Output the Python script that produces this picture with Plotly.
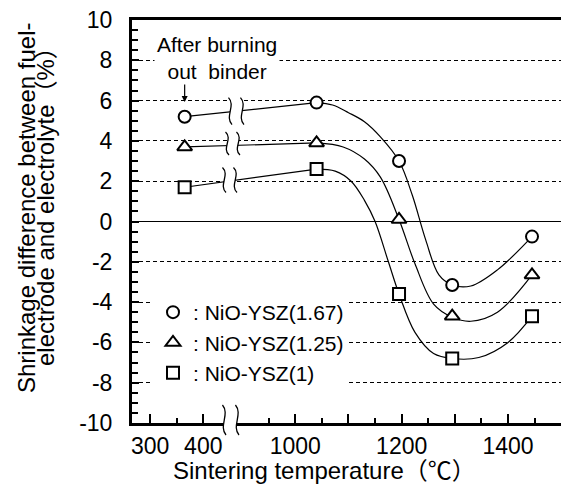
import plotly.graph_objects as go

# ---------------- data ----------------
temps = [365, 1040, 1195, 1295, 1445]          # sintering temperature (degC)
circle_vals = [5.2, 5.9, 3.0, -3.15, -0.75]    # NiO-YSZ(1.67)
triangle_vals = [3.7, 3.9, 0.1, -4.7, -2.65]   # NiO-YSZ(1.25)
square_vals = [1.7, 2.6, -3.6, -6.8, -4.7]     # NiO-YSZ(1)

# hand-drawn guide curves
circle_fit_T = [1040, 1070, 1100, 1130, 1160, 1195, 1220, 1245, 1270, 1295, 1330, 1380, 1445]
circle_fit_v = [5.9, 5.78, 5.4, 4.95, 4.2, 3.0, 1.3, -0.9, -2.65, -3.15, -3.2, -2.4, -0.75]
triangle_fit_T = [1040, 1090, 1130, 1160, 1195, 1225, 1260, 1295, 1330, 1380, 1445]
triangle_fit_v = [3.9, 3.7, 3.1, 2.2, 0.1, -2.1, -4.1, -4.75, -4.95, -4.5, -2.65]
square_fit_T = [1040, 1075, 1105, 1130, 1150, 1175, 1195, 1225, 1260, 1295, 1345, 1400, 1445]
square_fit_v = [2.6, 2.5, 2.0, 1.05, 0.0, -2.0, -3.6, -5.5, -6.55, -6.8, -6.75, -6.0, -4.7]

labels = [": NiO-YSZ(1.67)", ": NiO-YSZ(1.25)", ": NiO-YSZ(1)"]
major_ticks = [300, 400, 1000, 1100, 1200, 1300, 1400]
major_text = ["300", "400", "1000", "", "1200", "", "1400"]
minor_ticks = [350, 950, 1050, 1150, 1250, 1350, 1450]
y_ticks = [-10, -8, -6, -4, -2, 0, 2, 4, 6, 8, 10]
y_text = [str(v) for v in y_ticks]

# broken x axis: the 450..~890 gap is removed
GAP = 427
def P(t):
    return t if t < 700 else t - GAP

FONT = "Arial, 'Liberation Sans', Helvetica, 'Noto Sans CJK JP', sans-serif"

fig = go.Figure()

series = [
    (circle_vals, circle_fit_T, circle_fit_v, "circle", labels[0]),
    (triangle_vals, triangle_fit_T, triangle_fit_v, "triangle-up", labels[1]),
    (square_vals, square_fit_T, square_fit_v, "square", labels[2]),
]

for vals, fT, fv, sym, name in series:
    fig.add_trace(go.Scatter(x=[P(temps[0]), P(temps[1])], y=[vals[0], vals[1]],
                             mode="lines", line=dict(color="black", width=1.2),
                             showlegend=False, hoverinfo="skip"))
    fig.add_trace(go.Scatter(x=[P(t) for t in fT], y=fv, mode="lines",
                             line=dict(color="black", width=1.2, shape="spline", smoothing=1.0),
                             showlegend=False, hoverinfo="skip"))

for vals, fT, fv, sym, name in series:
    fig.add_trace(go.Scatter(x=[P(t) for t in temps], y=vals, mode="markers", name=name,
                             marker=dict(symbol=sym, size=12 if sym != "triangle-up" else 13,
                                         color="white", line=dict(color="black", width=2))))

# ---------------- break symbols ----------------
def tilde(xc, yc, h, w):
    top, bot = yc + h / 2, yc - h / 2
    return (f"M {xc - 0.3*w},{top} C {xc + w},{top - 0.3*h} {xc - w},{bot + 0.3*h} {xc + 0.3*w},{bot}")

def fill(x1, x2, yc, h, w):
    top, bot = yc + h / 2, yc - h / 2
    return (f"M {x1 - 0.3*w},{top} C {x1 + w},{top - 0.3*h} {x1 - w},{bot + 0.3*h} {x1 + 0.3*w},{bot} "
            f"L {x2 + 0.3*w},{bot} C {x2 - w},{bot + 0.3*h} {x2 + w},{top - 0.3*h} {x2 - 0.3*w},{top} Z")

shapes = []
W = 11
breaks = [  # (x1, x2, yc, h, yref)
    (450.7, 473.2, 5.48, 1.34, "y"),
    (445.1, 465.7, 3.87, 1.14, "y"),
    (439.4, 460.1, 2.06, 1.24, "y"),
    (439.4, 463.8, 0.0074, 0.0744, "paper"),
]
for x1, x2, yc, h, yr in breaks:
    shapes.append(dict(type="path", xref="x", yref=yr, path=fill(x1, x2, yc, h, W),
                       fillcolor="white", line=dict(width=0), layer="above"))
    for xc in (x1, x2):
        shapes.append(dict(type="path", xref="x", yref=yr, path=tilde(xc, yc, h, W),
                           line=dict(color="black", width=1.3), layer="above"))

annotations = [
    dict(text="After burning<br>out\u00a0\u00a0binder", xref="paper", yref="paper",
         x=(217 - 132) / 429, y=(423 - 58) / 403, xanchor="center", yanchor="middle",
         showarrow=False, bgcolor="white", borderpad=2,
         font=dict(family=FONT, size=21, color="black")),
    dict(text="", x=P(temps[0]), y=5.93, xref="x", yref="y", ax=0, ay=-19,
         showarrow=True, arrowhead=2, arrowsize=1, arrowwidth=1.2, arrowcolor="black", standoff=0),
    dict(text="Sintering temperature\uff08\u2103\uff09", xref="paper", yref="paper",
         x=(324 - 132) / 429, y=0, yshift=-47, xanchor="center", yanchor="middle",
         showarrow=False, font=dict(family=FONT, size=24, color="black")),
    dict(text="Shrinkage difference between fuel-", xref="paper", yref="paper",
         x=0, xshift=-105, y=(423 - 208) / 403, textangle=-90, xanchor="center", yanchor="middle",
         showarrow=False, font=dict(family=FONT, size=24, color="black")),
    dict(text="electrode and electrolyte\uff08%\uff09", xref="paper", yref="paper",
         x=0, xshift=-87, y=(423 - 201) / 403, textangle=-90, xanchor="center", yanchor="middle",
         showarrow=False, font=dict(family=FONT, size=24, color="black")),
]

fig.update_layout(
    width=561, height=498, autosize=False,
    margin=dict(l=132, r=0, t=20, b=75),
    paper_bgcolor="white", plot_bgcolor="white",
    font=dict(family=FONT, size=23, color="black"),
    shapes=shapes, annotations=annotations,
    showlegend=True,
    legend=dict(x=(153 - 132) / 429, y=(423 - 292) / 403, xanchor="left", yanchor="top",
                bgcolor="white", font=dict(family=FONT, size=21, color="black"),
                tracegroupgap=0, itemwidth=30, borderwidth=0),
    xaxis=dict(range=[266, 1072.5], tickmode="array",
               tickvals=[P(t) for t in major_ticks], ticktext=major_text,
               ticks="inside", ticklen=9, tickwidth=1.5, tickcolor="black",
               minor=dict(tickmode="array", tickvals=[P(t) for t in minor_ticks],
                          ticks="inside", ticklen=5, tickwidth=1.5, tickcolor="black"),
               showline=True, linewidth=3, linecolor="black", mirror=True,
               showgrid=False, zeroline=False,
               tickfont=dict(family=FONT, size=23, color="black")),
    yaxis=dict(range=[-10, 10], tickmode="array", tickvals=y_ticks, ticktext=y_text,
               ticks="inside", ticklen=7, tickwidth=1.5, tickcolor="black",
               minor=dict(dtick=0.5, tick0=0, ticks="inside", ticklen=6, tickwidth=1.5,
                          tickcolor="black", showgrid=False),
               showline=True, linewidth=3, linecolor="black",
               showgrid=True, gridcolor="black", gridwidth=1, griddash="4px,3px",
               zeroline=True, zerolinecolor="black", zerolinewidth=1.2,
               ticklabelstandoff=12,
               tickfont=dict(family=FONT, size=23, color="black")),
)

fig.write_html("out.html")
